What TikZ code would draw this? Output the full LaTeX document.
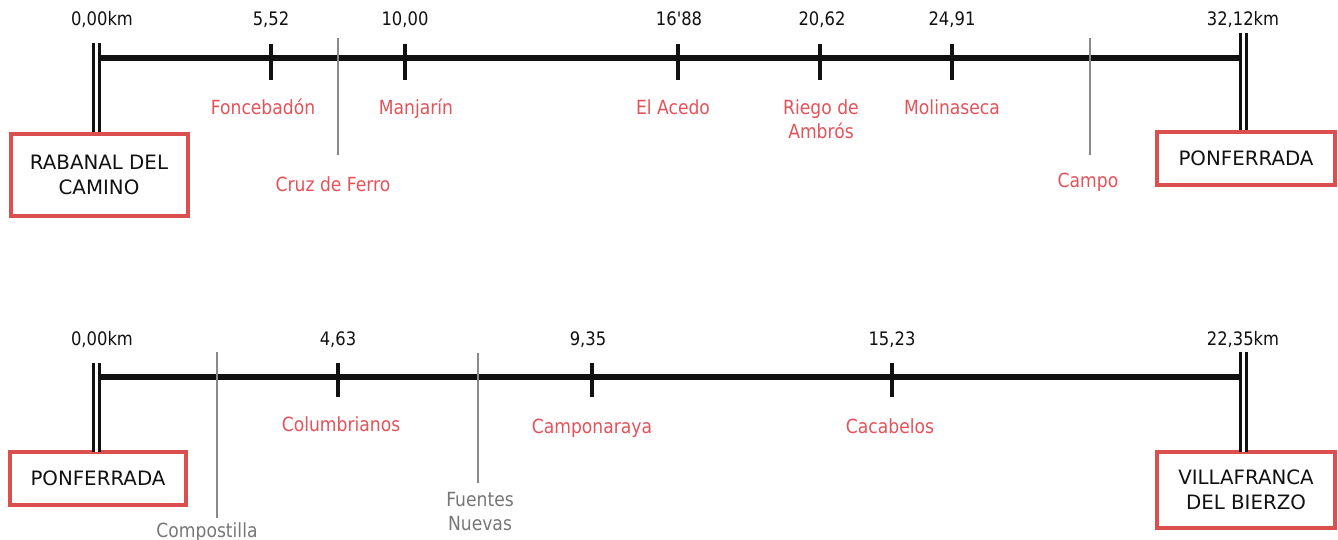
\documentclass[tikz,border=0pt]{standalone}
\usepackage{fontspec}
\setmainfont{DejaVu Sans}[FakeStretch=0.88]
\newfontfamily\boxfamily{DejaVu Sans}
\newfontfamily\kmfamily{DejaVu Sans}[FakeStretch=0.88, Ligatures=TeXOff]
\definecolor{boxred}{HTML}{DB4F4F}
\definecolor{townred}{HTML}{E4525A}
\definecolor{greyline}{HTML}{8A8A8A}
\definecolor{greytext}{HTML}{777777}
\definecolor{inkblack}{HTML}{111111}
\newcommand\kmfont{\kmfamily\fontsize{18.6}{22}\selectfont}
\newcommand\townfont{\fontsize{19.5}{24}\selectfont}
\newcommand\termfont{\boxfamily\fontsize{19.8}{25}\selectfont}
\begin{document}
\begin{tikzpicture}[x=1pt,y=-1pt,
  mainline/.style={line width=5.2pt, draw=inkblack},
  bar/.style={line width=3pt, draw=inkblack, double=white, double distance=3.2pt},
  tickmark/.style={line width=3.5pt, draw=inkblack},
  greymark/.style={line width=2.6pt, draw=greyline},
  km/.style={font=\kmfont, text=inkblack, anchor=base, inner sep=0pt},
  town/.style={font=\townfont, text=townred, inner sep=0pt, align=center},
  hamlet/.style={font=\townfont, text=greytext, inner sep=0pt, align=center},
  endbox/.style={draw=boxred, line width=4pt, font=\termfont, text=inkblack, align=center, inner sep=0pt}]
\useasboundingbox[fill=white] (0,0) rectangle (1338,540);

% ---------------- top route ----------------
\node[endbox, minimum width=177pt, minimum height=81.5pt] (rabanal) at (99,175.2) {RABANAL DEL\\CAMINO};
\node[endbox, minimum width=178pt, minimum height=53pt] (ponfA) at (1246,158.5) {PONFERRADA};

\coordinate (A0top) at (96.5,43);
\coordinate (A0bot) at (96.5,132.5);
\coordinate (A9top) at (1243.5,33);
\coordinate (A9bot) at (1243.5,130.5);
\coordinate (A0) at (100,58);
\coordinate (A9) at (1240,58);

\draw[mainline] (A0) -- (A9);
\draw[bar] (A0top) -- (A0bot);
\draw[bar] (A9top) -- (A9bot);

\foreach \n/\x in {a/271, b/405, c/678, d/820, e/952}{
  \coordinate (At\n u) at (\x,44);
  \coordinate (At\n d) at (\x,80);
  \draw[tickmark] (At\n u) -- (At\n d);
}
\coordinate (Acruzu) at (338,38);
\coordinate (Acruzd) at (338,155);
\coordinate (Acampou) at (1090,38);
\coordinate (Acampod) at (1090,155);
\draw[greymark] (Acruzu) -- (Acruzd);
\draw[greymark] (Acampou) -- (Acampod);

\node[km] (Ak0) at (102,26) {0,00km};
\node[km] (Ak1) at (271,26) {5,52};
\node[km] (Ak2) at (405,26) {10,00};
\node[km] (Ak3) at (679,26) {16'88};
\node[km] (Ak4) at (822,26) {20,62};
\node[km] (Ak5) at (952,26) {24,91};
\node[km] (Ak9) at (1243,26) {32,12km};

\node[town, anchor=base] (foncebadon) at (263,114.5) {Foncebadón};
\node[town, anchor=base] (manjarin) at (416,114.5) {Manjarín};
\node[town, anchor=base] (acedo) at (673,114.5) {El Acedo};
\node[town] (riego) at (821,119) {Riego de\\Ambrós};
\node[town, anchor=base] (molinaseca) at (952,114.5) {Molinaseca};
\node[town, anchor=base] (cruz) at (333,192) {Cruz de Ferro};
\node[town, anchor=base] (campo) at (1088,188) {Campo};

% ---------------- bottom route ----------------
\node[endbox, minimum width=176pt, minimum height=53pt] (ponfB) at (98,478.5) {PONFERRADA};
\node[endbox, minimum width=178pt, minimum height=76pt] (villafranca) at (1246,490) {VILLAFRANCA\\DEL BIERZO};

\coordinate (B0top) at (96.5,363);
\coordinate (B0bot) at (96.5,452);
\coordinate (B9top) at (1243.5,352);
\coordinate (B9bot) at (1243.5,452);
\coordinate (B0) at (100,377);
\coordinate (B9) at (1240,377);

\draw[mainline] (B0) -- (B9);
\draw[bar] (B0top) -- (B0bot);
\draw[bar] (B9top) -- (B9bot);

\foreach \n/\x in {a/338, b/592, c/892}{
  \coordinate (Bt\n u) at (\x,363);
  \coordinate (Bt\n d) at (\x,397);
  \draw[tickmark] (Bt\n u) -- (Bt\n d);
}
\coordinate (Bcompu) at (217,352);
\coordinate (Bcompd) at (217,518);
\coordinate (Bfuenu) at (478,353);
\coordinate (Bfuend) at (478,483);
\draw[greymark] (Bcompu) -- (Bcompd);
\draw[greymark] (Bfuenu) -- (Bfuend);

\node[km] (Bk0) at (102,345) {0,00km};
\node[km] (Bk1) at (338,345) {4,63};
\node[km] (Bk2) at (588,345) {9,35};
\node[km] (Bk3) at (892,345) {15,23};
\node[km] (Bk9) at (1243,345) {22,35km};

\node[town, anchor=base] (columbrianos) at (341,431) {Columbrianos};
\node[town, anchor=base] (camponaraya) at (592,433) {Camponaraya};
\node[town, anchor=base] (cacabelos) at (890,433) {Cacabelos};
\node[hamlet, anchor=base] (compostilla) at (207,537) {Compostilla};
\node[hamlet] (fuentes) at (480,512) {Fuentes\\Nuevas};
\end{tikzpicture}
\end{document}
